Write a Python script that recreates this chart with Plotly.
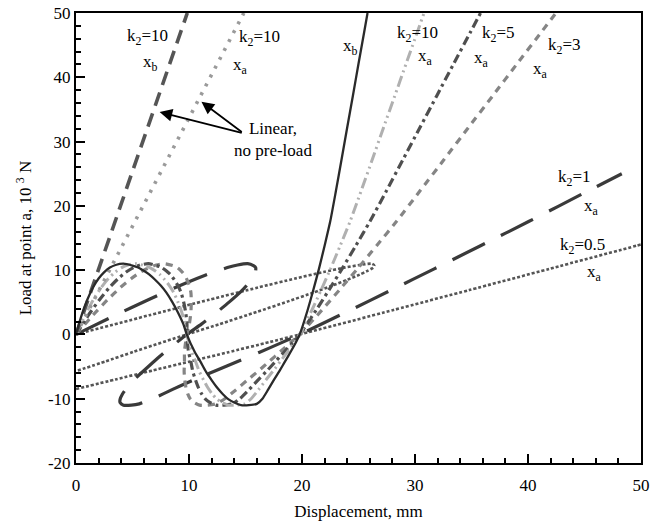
import plotly.graph_objects as go

# ---------------- data ----------------
# nonlinear, pre-loaded: displacement of point b (solid curve)
xb_nl = [0, 0.5, 1.0, 1.5, 2.0, 2.5, 3.0, 3.5, 4.2, 5.0, 5.5, 6.0, 6.5, 7.0, 7.5, 8.0, 8.5, 9.0, 9.5, 9.8,
         10.5, 11.0, 11.5, 12.0, 12.5, 13.0, 13.5, 14.0, 14.6, 15.3, 16.0, 16.5, 17.0, 17.5, 18.0, 18.5, 19.0,
         19.5, 19.8, 20.5, 21.0, 21.5, 22.0, 22.5, 23.0, 23.5, 24.0, 24.5, 25.0, 25.5, 25.8]
load_nl = [0, 3.0, 5.4, 7.3, 8.7, 9.7, 10.4, 10.8, 11.0, 10.7, 10.4, 9.9, 9.3, 8.5, 7.6, 6.5, 5.1, 3.5, 1.6, 0.0,
           -2.7, -4.2, -5.8, -7.1, -8.3, -9.3, -10.1, -10.6, -11.0, -11.0, -10.8, -10.0, -8.6, -7.1, -5.7, -4.2, -2.7,
           -1.1, 0.0, 3.8, 6.9, 10.2, 13.8, 17.6, 22.3, 27.2, 32.2, 37.1, 42.1, 47.0, 50.0]

# point a, k2 = 10
xa_k10 = [0, 0.8, 1.54, 2.23, 2.87, 3.47, 4.04, 4.58, 5.3, 6.07, 6.54, 6.99, 7.43, 7.85, 8.26, 8.65, 9.01, 9.35,
          9.66, 9.8, 10.23, 10.58, 10.92, 11.29, 11.67, 12.07, 12.49, 12.94, 13.5, 14.2, 14.92, 15.5, 16.15,
          16.8, 17.44, 18.08, 18.72, 19.38, 19.8, 20.88, 21.69, 22.52, 23.38, 24.26, 25.23, 26.22, 27.22,
          28.21, 29.21, 30.2, 30.8]
# point a, k2 = 5
xa_k5 = [0, 1.1, 2.08, 2.96, 3.74, 4.44, 5.08, 5.66, 6.4, 7.14, 7.58, 7.98, 8.36, 8.7, 9.02, 9.3, 9.52, 9.7,
         9.82, 9.8, 9.96, 10.16, 10.34, 10.58, 10.84, 11.14, 11.48, 11.88, 12.4, 13.1, 13.84, 14.5, 15.3, 16.1,
         16.88, 17.66, 18.44, 19.26, 19.8, 21.26, 22.38, 23.54, 24.76, 26.02, 27.46, 28.94, 30.44, 31.92,
         33.42, 34.9, 35.8]
# point a, k2 = 3
xa_k3 = [0, 1.5, 2.8, 3.93, 4.9, 5.73, 6.47, 7.1, 7.87, 8.57, 8.97, 9.3, 9.6, 9.83, 10.03, 10.17, 10.2, 10.17,
         10.03, 9.8, 9.6, 9.6, 9.57, 9.63, 9.73, 9.9, 10.13, 10.47, 10.93, 11.63, 12.4, 13.17, 14.17, 15.17,
         16.13, 17.1, 18.07, 19.1, 19.8, 21.77, 23.3, 24.9, 26.6, 28.37, 30.43, 32.57, 34.73, 36.87, 39.03,
         41.17, 42.47]
# point a, k2 = 1
xa_k1 = [0, 3.5, 6.4, 8.8, 10.7, 12.2, 13.4, 14.3, 15.2, 15.7, 15.9, 15.9, 15.8, 15.5, 15.1, 14.5, 13.6, 12.5,
         11.1, 9.8, 7.9, 6.9, 5.9, 5.1, 4.5, 4.1, 3.9, 3.9, 4.2, 4.9, 5.6, 6.8, 8.6, 10.5, 12.4, 14.3, 16.2,
         18.3, 19.8, 24.3, 27.9, 31.7, 35.8, 40.1, 45.3, 48.3]
load_k1 = [0, 3.0, 5.4, 7.3, 8.7, 9.7, 10.4, 10.8, 11.0, 10.7, 10.4, 9.9, 9.3, 8.5, 7.6, 6.5, 5.1, 3.5, 1.6,
           0.0, -2.7, -4.2, -5.8, -7.1, -8.3, -9.3, -10.1, -10.6, -11.0, -11.0, -10.8, -10.0, -8.5, -7.0, -5.6,
           -4.2, -2.8, -1.2, 0.0, 3.8, 6.9, 10.2, 13.8, 17.6, 22.3, 25.0]
# point a, k2 = 0.5 (upper two branches, then lower branch)
xa_k05_upper = [0, 6.5, 11.8, 16.1, 19.4, 21.9, 23.8, 25.1, 26.2, 26.4, 26.3, 25.8, 25.1, 24.0, 22.7, 21.0,
                18.7, 16.0, 12.7, 9.8, 5.1, 2.6, 0.0]
load_k05_upper = [0, 3.0, 5.4, 7.3, 8.7, 9.7, 10.4, 10.8, 11.0, 10.7, 10.4, 9.9, 9.3, 8.5, 7.6, 6.5, 5.1, 3.5,
                  1.6, 0.0, -2.7, -4.2, -5.7]
xa_k05_lower = [0.0, 3.5, 6.8, 10.1, 13.4, 17.1, 19.8, 28.1, 34.8, 41.9, 49.6, 50.0]
load_k05_lower = [-8.5, -7.0, -5.6, -4.2, -2.8, -1.2, 0.0, 3.8, 6.9, 10.2, 13.8, 14.0]

# linear, no pre-load (k2 = 10)
x_lin_b = [0, 9.85]
x_lin_a = [0, 14.85]
load_lin = [0, 50]

x_ticks = [0, 10, 20, 30, 40, 50]
y_ticks = [-20, -10, 0, 10, 20, 30, 40, 50]

FONT = "Liberation Serif"

fig = go.Figure()

def add(x, y, color, width, dash):
    fig.add_trace(go.Scatter(x=x, y=y, mode="lines", line=dict(color=color, width=width, dash=dash,
                                                                shape="spline", smoothing=0.6),
                             showlegend=False, hoverinfo="skip"))

add(xa_k05_upper, load_k05_upper, "#555555", 2.6, "3px,2px")
add(xa_k05_lower, load_k05_lower, "#555555", 2.6, "3px,2px")
add(xa_k1, load_k1, "#3a3a3a", 3.2, "36px,18px")
add(xa_k3, load_nl, "#858585", 3.2, "7px,6px")
add(xa_k5, load_nl, "#4f4f4f", 3.2, "9px,4px,3px,4px")
add(xa_k10, load_nl, "#b0b0b0", 3.0, "11px,4px,2px,4px,2px,4px")
add(x_lin_b, load_lin, "#555555", 3.6, "14px,8px")
add(x_lin_a, load_lin, "#9a9a9a", 3.6, "3px,7px")
add(xb_nl, load_nl, "#2a2a2a", 2.3, "solid")

annots = []
def label(x, y, text, size=17):
    annots.append(dict(x=x, y=y, xref="x", yref="y", text=text, showarrow=False,
                       font=dict(family=FONT, size=size, color="black")))

K2 = "k<sub>2</sub>="
label(6.3, 46.3, K2 + "10")
label(6.6, 42.2, "x<sub>b</sub>")
label(16.2, 46.1, K2 + "10")
label(14.6, 41.7, "x<sub>a</sub>")
label(24.3, 44.7, "x<sub>b</sub>")
label(30.2, 46.7, K2 + "10")
label(30.9, 43.1, "x<sub>a</sub>")
label(37.4, 46.7, K2 + "5")
label(35.9, 42.8, "x<sub>a</sub>")
label(43.2, 44.9, K2 + "3")
label(41.1, 41.1, "x<sub>a</sub>")
label(44.1, 24.3, K2 + "1")
label(45.6, 19.8, "x<sub>a</sub>")
label(44.8, 13.8, K2 + "0.5")
label(45.9, 9.5, "x<sub>a</sub>")
label(17.4, 30.4, "Linear,<br>no pre-load")

for tx, ty in [(7.4, 34.6), (11.1, 36.2)]:
    annots.append(dict(x=tx, y=ty, xref="x", yref="y", ax=14.8, ay=31.3, axref="x", ayref="y",
                       text="", showarrow=True, arrowhead=2, arrowsize=1.4, arrowwidth=1.8,
                       arrowcolor="black"))

axis_common = dict(showline=True, linecolor="black", linewidth=2, mirror=True, showgrid=False,
                   zeroline=False, ticks="inside", ticklen=9, tickwidth=2, tickcolor="black",
                   tickfont=dict(family=FONT, size=17, color="black"))

fig.update_layout(
    width=668, height=527,
    margin=dict(l=76, r=27, t=13, b=64, autoexpand=False),
    paper_bgcolor="white", plot_bgcolor="white",
    font=dict(family=FONT, size=17, color="black"),
    annotations=annots,
    xaxis=dict(range=[0, 50], tickvals=x_ticks, ticktext=[str(v) for v in x_ticks],
               minor=dict(dtick=2, tick0=0, ticks="inside", ticklen=5, tickwidth=1.5, tickcolor="black"),
               ticklabelstandoff=6,
               title=dict(text="Displacement, mm", font=dict(family=FONT, size=17), standoff=11),
               **axis_common),
    yaxis=dict(range=[-20, 50], tickvals=y_ticks, ticktext=[str(v) for v in y_ticks],
               minor=dict(dtick=2, tick0=0, ticks="inside", ticklen=5, tickwidth=1.5, tickcolor="black"),
               title=dict(text="Load at point a, 10 <sup>3</sup> N", font=dict(family=FONT, size=17), standoff=12),
               **axis_common),
)

fig.write_html("out.html", config={"displayModeBar": False},
               post_script="document.body.style.margin='0';document.body.style.overflow='hidden';")
